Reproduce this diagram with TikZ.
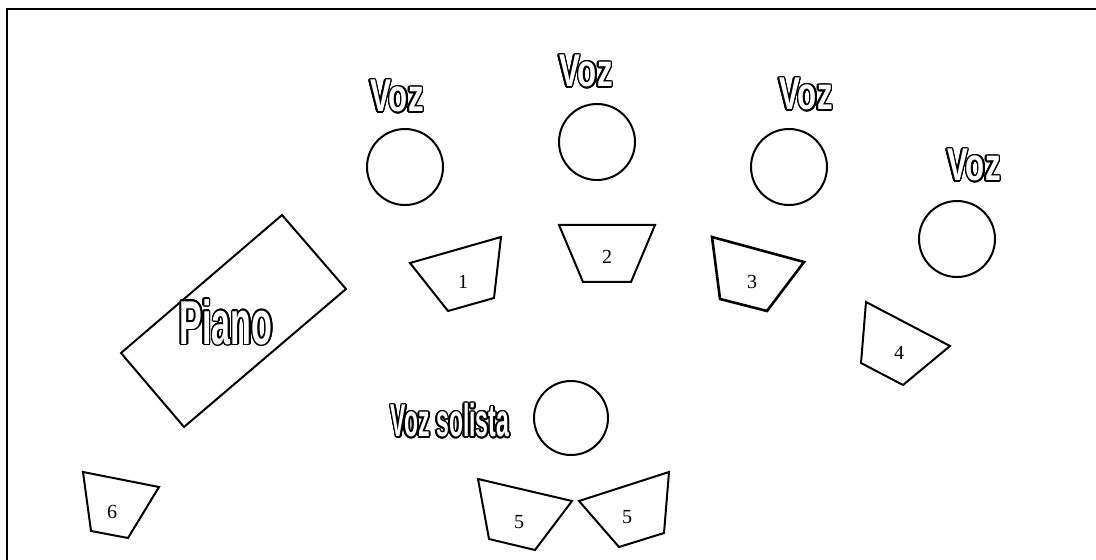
\documentclass[tikz,border=0pt]{standalone}
\usepackage{fontspec}
\setmainfont{Liberation Serif}
\newfontfamily\postfont[FakeStretch=0.55]{Liberation Sans}
\newfontfamily\vozfont[FakeStretch=0.68]{Liberation Sans}
\newfontfamily\solofont[FakeStretch=0.5]{Liberation Sans}
\usepackage{contour}
\contourlength{0.8pt}
\newcommand{\hollow}[1]{\contour{black}{\textcolor{white}{#1}}}
\tikzset{every node/.append style={inner sep=0pt}}
\tikzset{voz/.style={font=\vozfont\bfseries\fontsize{23}{23}\selectfont},
  num/.style={font=\fontsize{10}{10}\selectfont}}

\begin{document}
\begin{tikzpicture}[x=0.5pt,y=-0.5pt,line width=1pt]
\useasboundingbox (0,0) rectangle (1096,560);
\draw[line width=1.4pt] (7,561)--(7,9)--(1097,9);
% singers
\coordinate (C1) at (405,167); \coordinate (C2) at (597,142); \coordinate (C3) at (789,167);
\coordinate (C4) at (957,239); \coordinate (CS) at (571,418);
\foreach \c in {C1,C2,C3,C4} \draw (\c) circle[radius=38];
\draw (CS) circle[radius=37];
\node[voz] (V1) at (397,97) {\hollow{Voz}};
\node[voz] (V2) at (586,72) {\hollow{Voz}};
\node[voz] (V3) at (806,95) {\hollow{Voz}};
\node[voz] (V4) at (974,166) {\hollow{Voz}};
\node[voz,font=\solofont\bfseries\fontsize{23}{23}\selectfont] (VS) at (450,421) {\hollow{Voz solista}};
% piano
\draw (282,215)--(346,289)--(184,427)--(121,353)--cycle;
\node[voz,font=\postfont\bfseries\fontsize{31}{31}\selectfont] (P) at (226,323) {\hollow{Piano}};
% stands
\draw (410,263)--(501,237)--(494,298)--(448,311)--cycle;
\draw (559,225)--(655,225)--(631,282)--(583,282)--cycle;
\draw[line width=1.3pt] (712,237)--(804,262)--(767,311)--(720,299)--cycle;
\draw (866,302)--(950,346)--(903,385)--(861,363)--cycle;
\draw (478,479)--(572,501)--(535,550)--(489,539)--cycle;
\draw (579,501)--(669,472)--(664,533)--(619,547)--cycle;
\draw (83,472)--(159,487)--(128,538)--(91,531)--cycle;
\node[num] (N1) at (463,282) {1};
\node[num] (N2) at (607,257) {2};
\node[num] (N3) at (752,282) {3};
\node[num] (N4) at (899,353) {4};
\node[num] (N5a) at (519,522) {5};
\node[num] (N5b) at (627,517) {5};
\node[num] (N6) at (112,512) {6};
\end{tikzpicture}
\end{document}
